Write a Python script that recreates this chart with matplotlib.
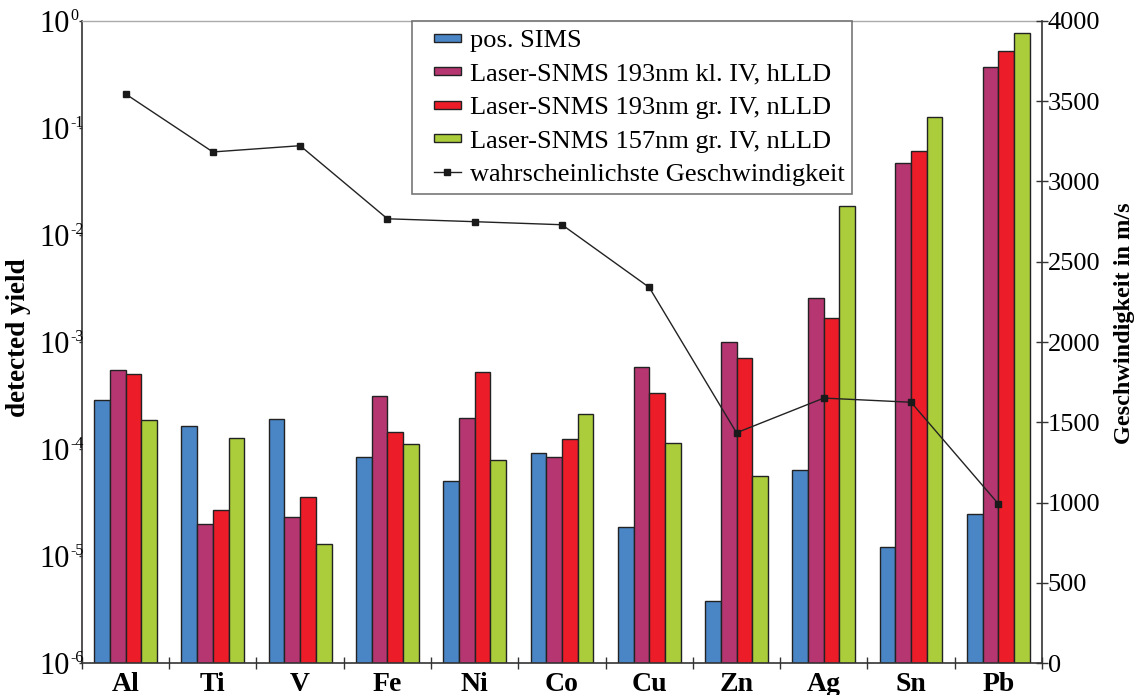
import numpy as np
import matplotlib
matplotlib.use("Agg")
import matplotlib.pyplot as plt
from matplotlib.patches import Rectangle
from matplotlib.legend_handler import HandlerPatch, HandlerLine2D
from matplotlib.ticker import FixedLocator, NullLocator, FuncFormatter, NullFormatter

plt.rcParams['font.family'] = ['Liberation Serif', 'DejaVu Serif']

elements = ['Al', 'Ti', 'V', 'Fe', 'Ni', 'Co', 'Cu', 'Zn', 'Ag', 'Sn', 'Pb']

pos_sims     = [2.9e-4, 1.63e-4, 1.92e-4, 8.5e-5, 5.0e-5, 9.2e-5, 1.86e-5, 3.8e-6, 6.4e-5, 1.23e-5, 2.46e-5]
snms193_kl   = [5.5e-4, 2.0e-5, 2.3e-5, 3.1e-4, 1.96e-4, 8.5e-5, 5.8e-4, 1.0e-3, 2.57e-3, 4.7e-2, 0.366]
snms193_gr   = [5.0e-4, 2.68e-5, 3.6e-5, 1.44e-4, 5.3e-4, 1.24e-4, 3.37e-4, 7.1e-4, 1.69e-3, 6.1e-2, 0.525]
snms157_gr   = [1.88e-4, 1.28e-4, 1.3e-5, 1.11e-4, 7.9e-5, 2.11e-4, 1.13e-4, 5.65e-5, 1.85e-2, 0.126, 0.774]
velocity     = [3544, 3183, 3222, 2767, 2749, 2730, 2340, 1435, 1651, 1625, 993]
decades      = [-6, -5, -4, -3, -2, -1, 0]

series = [
    (pos_sims,   'pos. SIMS',                          '#4a86c6'),
    (snms193_kl, 'Laser-SNMS 193nm kl. IV, hLLD',      '#b53671'),
    (snms193_gr, 'Laser-SNMS 193nm gr. IV, nLLD',      '#ed1c29'),
    (snms157_gr, 'Laser-SNMS 157nm gr. IV, nLLD',      '#abcc3b'),
]

fig = plt.figure(figsize=(11.43, 6.95), dpi=100)
ax = fig.add_axes([0.0717, 0.0456, 0.9116 - 0.0717, 0.9702 - 0.0456])

x = np.arange(len(elements))
w = 0.18
bar_handles, bar_labels = [], []
for k, (vals, lab, col) in enumerate(series):
    bars = ax.bar(x + (k - 1.5) * w, vals, width=w, color=col, edgecolor='#222222',
                  linewidth=1.0, zorder=2)
    bar_handles.append(bars.patches[0])
    bar_labels.append(lab)

ax.set_yscale('log')
ax.set_ylim(1e-6, 1e0)
ax.set_xlim(-0.5, len(elements) - 0.5)
ax.yaxis.set_major_locator(FixedLocator([10.0 ** e for e in decades]))
ax.yaxis.set_minor_locator(NullLocator())
ax.yaxis.set_major_formatter(FuncFormatter(lambda v, p: '10'))
ax.tick_params(axis='y', direction='out', length=2.5, width=1, labelsize=22, pad=6, color='#333333')
# small exponents next to the "10" labels
for e in decades:
    ax.annotate('%d' % e, xy=(0, 10.0 ** e), xycoords=('axes fraction', 'data'),
                xytext=(-12, 5), textcoords='offset pixels', ha='left', va='center',
                fontsize=11.5, annotation_clip=False)
ax.set_ylabel('detected yield', fontsize=19.5, fontweight='bold')
ax.yaxis.set_label_coords(-0.053, 0.506)

# group separators on the x axis, names centred under each group
ax.xaxis.set_major_locator(FixedLocator(np.arange(len(elements) + 1) - 0.5))
ax.xaxis.set_major_formatter(NullFormatter())
ax.xaxis.set_minor_locator(FixedLocator(x))
ax.set_xticklabels(elements, minor=True, fontsize=20, fontweight='bold')
ax.tick_params(axis='x', which='major', direction='inout', length=8, width=1, color='#333333')
ax.tick_params(axis='x', which='minor', length=0, pad=6)

for s in ['left', 'bottom']:
    ax.spines[s].set_color('#333333')
    ax.spines[s].set_linewidth(1.2)
ax.spines['top'].set_color('#aaaaaa')
ax.spines['top'].set_linewidth(1.0)
ax.spines['right'].set_visible(False)

ax2 = ax.twinx()
vline, = ax2.plot(x, velocity, color='#222222', linewidth=1.0, marker='s', markersize=5,
                  markerfacecolor='#1a1a1a', markeredgecolor='#1a1a1a', zorder=3)
ax2.set_ylim(0, 4000)
ax2.set_yticks(np.arange(0, 4001, 500))
ax2.tick_params(axis='y', direction='inout', length=8, width=1, labelsize=19, pad=0, color='#333333')
ax2.set_ylabel('Geschwindigkeit in m/s', fontsize=17.5, fontweight='bold')
ax2.yaxis.set_label_coords(1.075, 0.53)
ax2.spines['right'].set_color('#333333')
ax2.spines['right'].set_linewidth(1.2)
for s in ['left', 'bottom', 'top']:
    ax2.spines[s].set_visible(False)


# legend keys: a short swatch sitting at the right end of the handle box
def swatch(legend, orig_handle, xdescent, ydescent, width, height, fontsize):
    hw, hh = 1.0 * fontsize, 0.3 * fontsize
    return Rectangle((-xdescent + width - hw, -ydescent + (height - hh) / 2), hw, hh)


class ShortLine(HandlerLine2D):
    def get_xdata(self, legend, xdescent, ydescent, width, height, fontsize):
        hw = 1.0 * fontsize
        x0 = -xdescent + width - hw
        return [x0, x0 + hw], [x0 + hw / 2]


hmap = {h: HandlerPatch(patch_func=swatch) for h in bar_handles}
hmap[vline] = ShortLine(numpoints=1)
leg = ax2.legend(bar_handles + [vline], bar_labels + ['wahrscheinlichste Geschwindigkeit'],
                 handler_map=hmap, loc='upper left', bbox_to_anchor=(0.3435, 1.0),
                 fontsize=19, frameon=True, fancybox=False, edgecolor='#555555',
                 handlelength=1.55, handleheight=0.7, handletextpad=0.34,
                 labelspacing=0.38, borderpad=0.3, borderaxespad=0.0)
leg.get_frame().set_linewidth(1.2)
leg.set_zorder(10)

fig.savefig('out.png', dpi=100)
